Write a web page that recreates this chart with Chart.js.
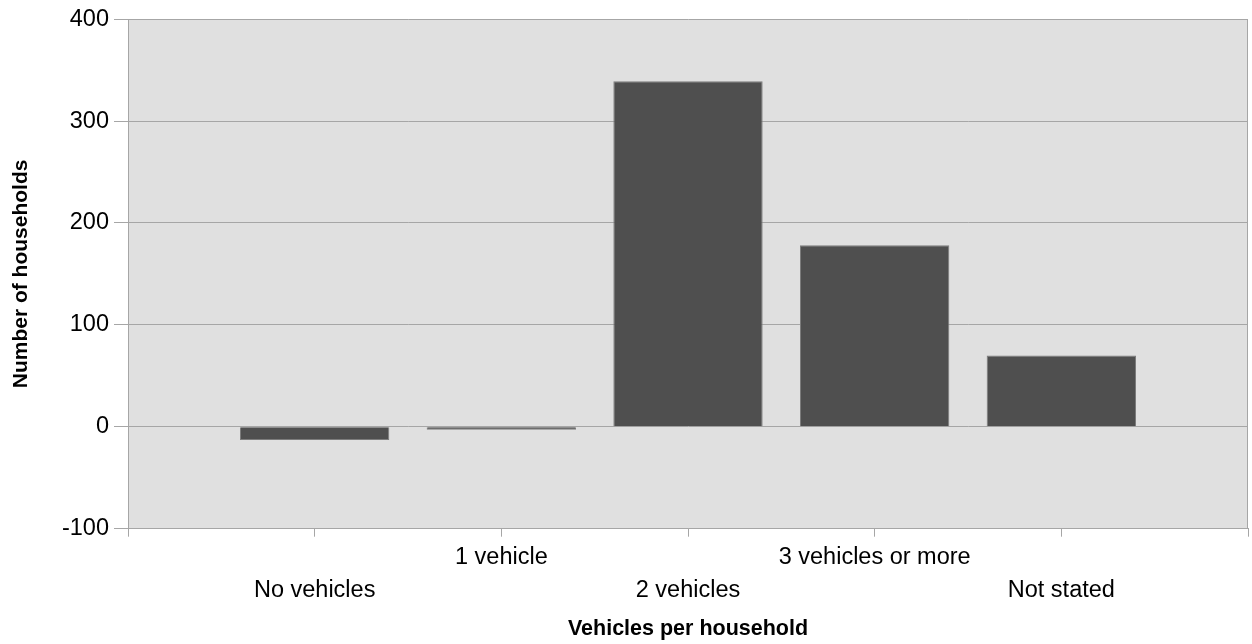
<!DOCTYPE html>
<html>
<head>
<meta charset="utf-8">
<script src="https://cdn.jsdelivr.net/npm/chart.js@4.4.1/dist/chart.umd.min.js"></script>
<style>
  html, body { margin: 0; padding: 0; background: #ffffff; }
  #wrap { width: 1252px; height: 644px; position: relative; }
</style>
</head>
<body>
<div id="wrap"><canvas id="c" width="1252" height="644"></canvas></div>
<script>
// ---- Data ----
const categories = ['No vehicles', '1 vehicle', '2 vehicles', '3 vehicles or more', 'Not stated'];
const households = [-13, -3, 339, 178, 70];
const yTicks = [-100, 0, 100, 200, 300, 400];
const xTitle = 'Vehicles per household';
const yTitle = 'Number of households';

// Build category axis with empty slots at both ends, labels staggered over two rows
const labels = [''].concat(categories.map((c, i) => (i % 2 === 0 ? ['', c] : [c, '']))).concat(['']);
const values = [null].concat(households).concat([null]);

const FONT = '"Liberation Sans", Arial, Helvetica, sans-serif';
const GRID = '#a6a6a6';

const plotBg = {
  id: 'plotBg',
  beforeDraw(chart) {
    const { ctx, chartArea: a } = chart;
    ctx.save();
    ctx.fillStyle = '#e0e0e0';
    ctx.fillRect(a.left, a.top, a.right - a.left, a.bottom - a.top);
    ctx.restore();
  },
  afterDatasetsDraw(chart) {
    const { ctx, chartArea: a } = chart;
    ctx.save();
    ctx.strokeStyle = GRID;
    ctx.lineWidth = 1;
    ctx.beginPath();
    ctx.moveTo(a.right - 0.5, a.top);
    ctx.lineTo(a.right - 0.5, a.bottom);
    ctx.stroke();
    ctx.restore();
  }
};

new Chart(document.getElementById('c'), {
  type: 'bar',
  data: {
    labels: labels,
    datasets: [{
      data: values,
      backgroundColor: '#4f4f4f',
      borderColor: '#7c7c7c',
      borderWidth: 1,
      categoryPercentage: 1.0,
      barPercentage: 0.8
    }]
  },
  options: {
    responsive: false,
    animation: false,
    devicePixelRatio: 1,
    layout: { padding: { top: 19, right: 3, bottom: 0, left: 0 } },
    plugins: { legend: { display: false }, tooltip: { enabled: false } },
    scales: {
      x: {
        type: 'category',
        offset: false,
        grid: { display: true, drawOnChartArea: false, drawTicks: true, tickLength: 8, color: GRID, offset: false },
        border: { display: true, color: GRID },
        ticks: {
          autoSkip: false, maxRotation: 0, minRotation: 0, padding: 4,
          color: '#000', font: { family: FONT, size: 23.5, lineHeight: 1.42 }
        },
        title: {
          display: true, text: xTitle, color: '#000',
          font: { family: FONT, size: 21.5, weight: 'bold' },
          padding: { top: 0, bottom: 2 }
        },
        afterFit(scale) { scale.height = 115.3; }
      },
      y: {
        min: yTicks[0],
        max: yTicks[yTicks.length - 1],
        afterBuildTicks(scale) { scale.ticks = yTicks.map(v => ({ value: v })); },
        grid: { display: true, drawOnChartArea: true, drawTicks: true, tickLength: 14, color: GRID },
        border: { display: true, color: GRID },
        ticks: {
          padding: 5, color: '#000',
          font: { family: FONT, size: 23.5 }
        },
        title: {
          display: true, text: yTitle, color: '#000',
          font: { family: FONT, size: 21, weight: 'bold' },
          padding: { top: 9, bottom: 0 }
        },
        afterFit(scale) { scale.width = 128; }
      }
    }
  },
  plugins: [plotBg]
});
</script>
</body>
</html>
